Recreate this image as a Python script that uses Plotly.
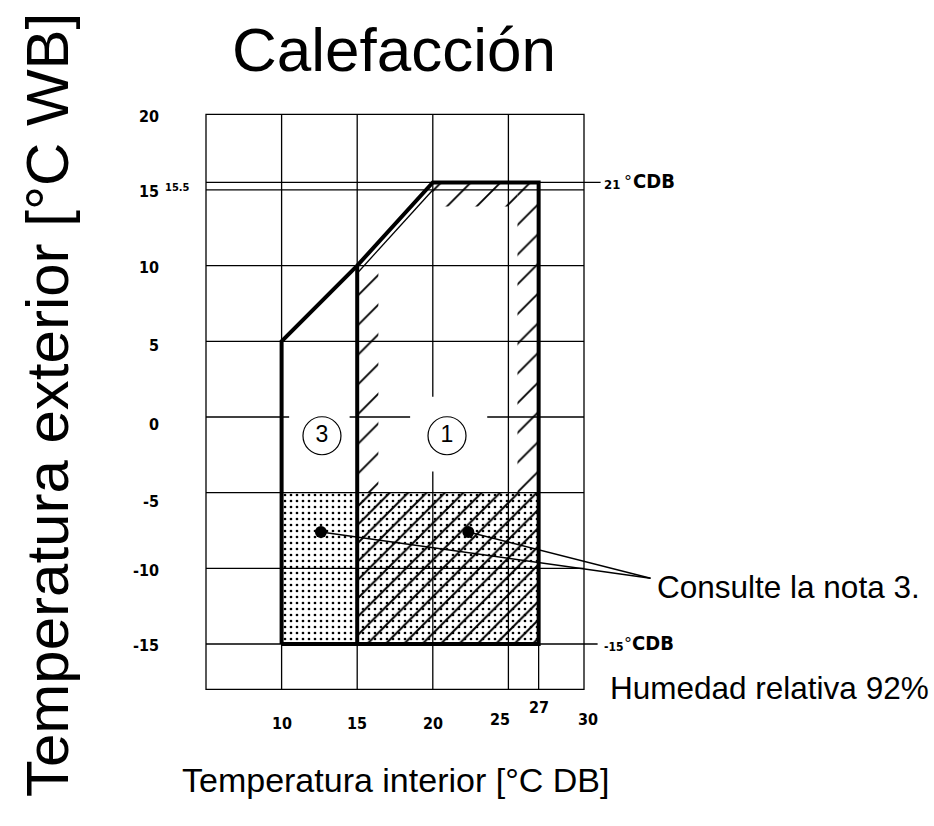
import plotly.graph_objects as go

W, H = 934, 826

# ---------------- data ----------------
x_ticks = [10, 15, 20, 25, 27, 30]
y_ticks = [20, 15, 10, 5, 0, -5, -10, -15]
x_grid = [10, 15, 20, 25]
y_grid = [15, 10, 5, 0, -5, -10]
box_x = [5, 30]
box_y = [-18, 20]

envelope_x = [10, 10, 15, 20, 27, 27, 10]
envelope_y = [-15, 5, 10, 15.5, 15.5, -15, -15]
divider_x = [15, 15]
divider_y = [-15, 10]
inner_edge_x = [15, 20]
inner_edge_y = [9.5, 15]

dotted_x = [10, 27]
dotted_y = [-15, -5]
hatch_low_x = [15, 27]
hatch_low_y = [-15, -5]
strip_left_x = [15, 16.4, 16.4, 15]
strip_left_y = [-5, -5, 11.05, 9.5]
strip_top_x = [20, 25.6, 25.6, 20]
strip_top_y = [13.9, 13.9, 15.5, 15.5]
strip_right_x = [25.6, 27]
strip_right_y = [-5, 15.5]

note_x = [12.6, 22.35]
note_y = [-7.6, -7.6]
note_target = [34.4, -10.65]
note_text = "Consulte la nota 3."
humidity_text = "Humedad relativa 92%"

region_labels = ["3", "1"]
region_x = [12.67, 20.94]
region_y = [-1.24, -1.24]

ref_lines_y = [15.5, -15]
ref_line_end_x = [31.1, 30.9]
ref_line_values = ["21", "-15"]
ref_line_unit = "CDB"

# ---------------- pixel mapping (layout) ----------------
XS = (584 - 206) / 25.0
YS = (644 - 114.3) / 35.0
x_lo = 5 - 206 / XS
x_hi = 5 + (W - 206) / XS
y_hi = 20 + 114.3 / YS
y_lo = 20 - (H - 114.3) / YS


def px(p):
    return p / W


def py(p):
    return 1 - p / H


def rect(xs, ys):
    return [xs[0], xs[1], xs[1], xs[0], xs[0]], [ys[0], ys[0], ys[1], ys[1], ys[0]]


fig = go.Figure()

# ---------------- grid (shapes, below traces) ----------------
shapes = []
thin = dict(color="black", width=1.3)
shapes.append(dict(type="rect", x0=box_x[0], x1=box_x[1], y0=box_y[0], y1=box_y[1],
                   line=thin, layer="below"))
for gx in x_grid:
    shapes.append(dict(type="line", x0=gx, x1=gx, y0=box_y[0], y1=box_y[1], line=thin, layer="below"))
for gy in y_grid:
    shapes.append(dict(type="line", x0=box_x[0], x1=box_x[1], y0=gy, y1=gy, line=thin, layer="below"))
shapes.append(dict(type="line", x0=27, x1=27, y0=box_y[0], y1=-15, line=thin, layer="below"))
for ry, ex in zip(ref_lines_y, ref_line_end_x):
    shapes.append(dict(type="line", x0=box_x[0], x1=ex, y0=ry, y1=ry, line=thin, layer="below"))
white = dict(width=0)
shapes.append(dict(type="rect", x0=10.5, x1=14.5, y0=-0.4, y1=0.4, fillcolor="white", line=white, layer="below"))
shapes.append(dict(type="rect", x0=18.5, x1=23.6, y0=-0.4, y1=0.4, fillcolor="white", line=white, layer="below"))
shapes.append(dict(type="rect", x0=19.6, x1=20.4, y0=-3.6, y1=1.34, fillcolor="white", line=white, layer="below"))


# ---------------- pattern fills ----------------
def pattern_trace(xs, ys, shape, size, solidity):
    return go.Scatter(x=xs, y=ys, mode="none", fill="toself", fillcolor="black",
                      fillpattern=dict(shape=shape, size=size, solidity=solidity,
                                       fgcolor="black", fgopacity=1, bgcolor="rgba(0,0,0,0)"),
                      hoverinfo="skip", showlegend=False)


dx, dy = rect(dotted_x, dotted_y)
fig.add_trace(pattern_trace(dx, dy, ".", 6, 0.16))
hx, hy = rect(hatch_low_x, hatch_low_y)
fig.add_trace(pattern_trace(hx, hy, "/", 13, 0.15))
fig.add_trace(pattern_trace(strip_left_x + [strip_left_x[0]], strip_left_y + [strip_left_y[0]], "/", 21, 0.09))
fig.add_trace(pattern_trace(strip_top_x + [strip_top_x[0]], strip_top_y + [strip_top_y[0]], "/", 21, 0.09))
rx, ry_ = rect(strip_right_x, strip_right_y)
fig.add_trace(pattern_trace(rx, ry_, "/", 21, 0.09))

# ---------------- envelope lines ----------------
thick = dict(color="black", width=4)
fig.add_trace(go.Scatter(x=envelope_x, y=envelope_y, mode="lines", line=thick, showlegend=False, hoverinfo="skip"))
fig.add_trace(go.Scatter(x=divider_x, y=divider_y, mode="lines", line=thick, showlegend=False, hoverinfo="skip"))
fig.add_trace(go.Scatter(x=inner_edge_x, y=inner_edge_y, mode="lines", line=dict(color="black", width=1.3),
                         showlegend=False, hoverinfo="skip"))

for nx, ny in zip(note_x, note_y):
    fig.add_trace(go.Scatter(x=[nx, note_target[0]], y=[ny, note_target[1]], mode="lines",
                             line=dict(color="black", width=1.5), showlegend=False, hoverinfo="skip"))
fig.add_trace(go.Scatter(x=note_x, y=note_y, mode="markers", marker=dict(color="black", size=12),
                         showlegend=False, hoverinfo="skip"))

fig.add_trace(go.Scatter(x=region_x, y=region_y, mode="markers+text", text=region_labels,
                         textposition="middle center",
                         textfont=dict(family="Liberation Sans", size=23, color="black"),
                         marker=dict(symbol="circle-open", size=38, color="black", line=dict(width=1.2)),
                         showlegend=False, hoverinfo="skip"))

# ---------------- annotations ----------------
ann = []
tick_font = dict(family="DejaVu Sans Condensed", size=16, color="black", weight="bold")
x_label_px = {10: (282, 723), 15: (357, 723), 20: (433, 723), 25: (500, 719), 27: (539, 707), 30: (588, 719)}
for t in x_ticks:
    cx, cy = x_label_px[t]
    ann.append(dict(x=px(cx), y=py(cy), xref="paper", yref="paper", text=str(t), showarrow=False,
                    font=tick_font, xanchor="center", yanchor="middle"))
y_label_shift = {20: 2, 15: 2, 10: 2, 5: 4, 0: 8, -5: 9, -10: 2, -15: 1}
for t in y_ticks:
    ann.append(dict(x=px(161), y=t, xref="paper", yref="y", text=str(t), showarrow=False,
                    font=tick_font, xanchor="right", yanchor="middle", yshift=-y_label_shift[t]))
ann.append(dict(x=px(177), y=15.5, xref="paper", yref="y", text="15.5", showarrow=False,
                font=dict(family="DejaVu Sans Condensed", size=11, color="black", weight="bold"),
                xanchor="center", yanchor="middle", yshift=-5))

# reference-line labels: value, degree ring, unit
unit_bold = dict(family="DejaVu Sans Condensed", size=20, color="black", weight="bold")
deg_font = dict(family="DejaVu Sans", size=16, color="black")
label_style = [  # (value x, value size, degree x, unit x, value y-shift)
    (602, 13, 622, 631, -2),
    (602, 12, 622, 630, -3),
]
for ry, val, (vx, vsz, gx, ux, vs) in zip(ref_lines_y, ref_line_values, label_style):
    ann.append(dict(x=px(vx), y=ry, xref="paper", yref="y", text=val, showarrow=False,
                    font=dict(family="DejaVu Sans Condensed", size=vsz, color="black", weight="bold"),
                    xanchor="left", yanchor="middle", yshift=vs))
    ann.append(dict(x=px(gx), y=ry, xref="paper", yref="y", text="°", showarrow=False,
                    font=deg_font, xanchor="left", yanchor="middle", yshift=1))
    ann.append(dict(x=px(ux), y=ry, xref="paper", yref="y", text=ref_line_unit, showarrow=False,
                    font=unit_bold, xanchor="left", yanchor="middle", yshift=1))

note_font = dict(family="Liberation Sans", size=31.5, color="black")
ann.append(dict(x=px(655), y=py(587), xref="paper", yref="paper", text=note_text, showarrow=False,
                font=note_font, xanchor="left", yanchor="middle"))
ann.append(dict(x=px(608), y=py(688), xref="paper", yref="paper", text=humidity_text, showarrow=False,
                font=note_font, xanchor="left", yanchor="middle"))
ann.append(dict(x=px(394), y=py(50), xref="paper", yref="paper", text="Calefacción", showarrow=False,
                font=dict(family="Liberation Sans", size=62, color="black"), xanchor="center", yanchor="middle"))
ann.append(dict(x=px(395), y=py(780), xref="paper", yref="paper", text="Temperatura interior [°C DB]",
                showarrow=False, font=dict(family="Liberation Sans", size=34, color="black"),
                xanchor="center", yanchor="middle"))
ann.append(dict(x=px(47), y=py(405), xref="paper", yref="paper", text="Temperatura exterior [°C WB]",
                showarrow=False, textangle=-90, font=dict(family="Liberation Sans", size=60, color="black"),
                xanchor="center", yanchor="middle"))

fig.update_layout(
    width=W, height=H,
    margin=dict(l=0, r=0, t=0, b=0),
    paper_bgcolor="white", plot_bgcolor="white",
    xaxis=dict(range=[x_lo, x_hi], visible=False, fixedrange=True),
    yaxis=dict(range=[y_lo, y_hi], visible=False, fixedrange=True),
    shapes=shapes, annotations=ann, showlegend=False,
)

fig.write_html("out.html", config={"displayModeBar": False},
               post_script="document.body.style.margin='0px';document.body.style.overflow='hidden';")
